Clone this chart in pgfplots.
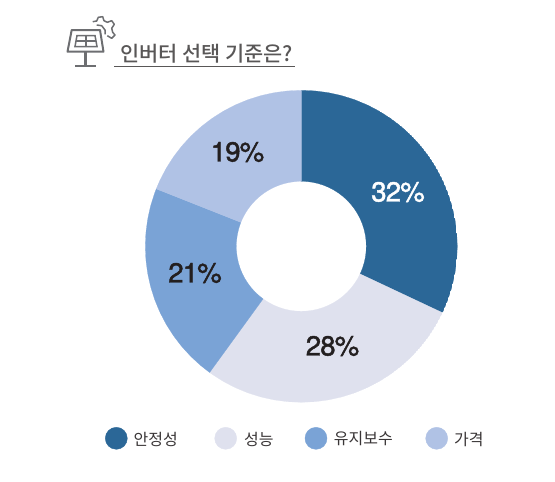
\documentclass[border=0pt]{standalone}
\usepackage{pgfplots}
\pgfplotsset{compat=1.18}
\usepgfplotslibrary{polar}
\usepackage{fontspec}
\setmainfont{TeX Gyre Heros}
\newfontfamily\kr{Noto Sans CJK KR}
\newfontfamily\krm{Noto Sans CJK KR Medium}
\newfontfamily\num[FakeBold=1.6,LetterSpace=-3]{TeX Gyre Heros}
\definecolor{cA}{HTML}{2B6797}
\definecolor{cB}{HTML}{DFE1EE}
\definecolor{cC}{HTML}{7AA3D6}
\definecolor{cD}{HTML}{B0C2E5}
\definecolor{ink}{HTML}{231F20}
\definecolor{titlegray}{HTML}{595757}
\definecolor{icongray}{HTML}{6D6E71}
\begin{document}
\begin{tikzpicture}
\useasboundingbox (0,0) rectangle (555pt,482pt);

% donut: (angle, radius), 32 28 21 19 percent clockwise from the top
\begin{polaraxis}[
  at={(301.3pt,235.7pt)}, anchor=center,
  width=312pt, height=312pt, scale only axis, hide axis,
  xmin=0, xmax=360, ymin=0, ymax=156]
\addplot[fill=cA,draw=cA,line width=0.2pt] coordinates {
(90,156)(85,156)(80,156)(75,156)(70,156)(65,156)(60,156)(55,156)(50,156)(45,156)(40,156)(35,156)(30,156)(25,156)(20,156)(15,156)(10,156)(5,156)(0,156)(355,156)(350,156)(345,156)(340,156)(335,156)(334.8,156)
(334.8,65)(335,65)(340,65)(345,65)(350,65)(355,65)(0,65)(5,65)(10,65)(15,65)(20,65)(25,65)(30,65)(35,65)(40,65)(45,65)(50,65)(55,65)(60,65)(65,65)(70,65)(75,65)(80,65)(85,65)(90,65)
} --cycle;
\addplot[fill=cB,draw=cB,line width=0.2pt] coordinates {
(334.8,156)(330,156)(325,156)(320,156)(315,156)(310,156)(305,156)(300,156)(295,156)(290,156)(285,156)(280,156)(275,156)(270,156)(265,156)(260,156)(255,156)(250,156)(245,156)(240,156)(235,156)(234,156)
(234,65)(235,65)(240,65)(245,65)(250,65)(255,65)(260,65)(265,65)(270,65)(275,65)(280,65)(285,65)(290,65)(295,65)(300,65)(305,65)(310,65)(315,65)(320,65)(325,65)(330,65)(334.8,65)
} --cycle;
\addplot[fill=cC,draw=cC,line width=0.2pt] coordinates {
(234,156)(230,156)(225,156)(220,156)(215,156)(210,156)(205,156)(200,156)(195,156)(190,156)(185,156)(180,156)(175,156)(170,156)(165,156)(160,156)(158.4,156)
(158.4,65)(160,65)(165,65)(170,65)(175,65)(180,65)(185,65)(190,65)(195,65)(200,65)(205,65)(210,65)(215,65)(220,65)(225,65)(230,65)(234,65)
} --cycle;
\addplot[fill=cD,draw=cD,line width=0.2pt] coordinates {
(158.4,156)(155,156)(150,156)(145,156)(140,156)(135,156)(130,156)(125,156)(120,156)(115,156)(110,156)(105,156)(100,156)(95,156)(90,156)
(90,65)(95,65)(100,65)(105,65)(110,65)(115,65)(120,65)(125,65)(130,65)(135,65)(140,65)(145,65)(150,65)(155,65)(158.4,65)
} --cycle;
\end{polaraxis}

% everything else in image pixels, y running down
\begin{axis}[
  at={(0,0)}, anchor=south west,
  width=555pt, height=482pt, scale only axis, hide axis,
  xmin=0, xmax=555, ymin=0, ymax=482, y dir=reverse, clip=false]
\addplot[only marks,mark=*,mark size=11pt,color=cA] coordinates {(116.3,438.3)};
\addplot[only marks,mark=*,mark size=11pt,color=cB] coordinates {(225.7,438.3)};
\addplot[only marks,mark=*,mark size=11pt,color=cC] coordinates {(316,438.3)};
\addplot[only marks,mark=*,mark size=11pt,color=cD] coordinates {(436.7,438.3)};

\node[anchor=center,text=white,font=\num\fontsize{27.5}{28}\selectfont] at (398,192) {32\%};
\node[anchor=center,text=ink,font=\num\fontsize{27.5}{28}\selectfont] at (332.5,346) {28\%};
\node[anchor=center,text=ink,font=\num\fontsize{27.5}{28}\selectfont] at (195,273) {21\%};
\node[anchor=center,text=ink,font=\num\fontsize{27.5}{28}\selectfont] at (237.5,152) {19\%};

\foreach \px/\lab in {133.5/안정성,244/성능,333.7/유지보수,454/가격}{
  \edef\tmp{\noexpand\node[anchor=west,inner sep=0pt,text=ink!90,font=\noexpand\kr\noexpand\fontsize{16}{16}\noexpand\selectfont] at (\px,439) {\lab};}
  \tmp
}

% title and underline
\node[anchor=west,inner sep=0pt,text=titlegray,font=\krm\fontsize{20.8}{21}\selectfont] at (120,53.5) {인버터 선택 기준은?};
\draw[titlegray,line width=0.9pt] (114,66.3) -- (295,66.3);

% solar panel icon
\draw[icongray,line width=2pt,line join=round] (71.7,30) -- (100,30) -- (103.5,51.7) -- (67.5,51.7) -- cycle;
\draw[icongray,line width=1.5pt] (77,35.5) -- (95,35.5) -- (97,46.5) -- (75,46.5) -- cycle;
\draw[icongray,line width=1.5pt] (76,41) -- (96,41) (85.8,35.5) -- (85.8,46.5);
\draw[icongray,line width=3pt] (85.8,51.7) -- (85.8,65);
\draw[icongray,line width=2pt] (75,65.7) -- (96,65.7);
\draw[icongray,line width=1.5pt,line join=round] (92.7,21.7) -- (96.7,21) -- (98.3,17.3) -- (102.7,16.7) -- (104,20.7) -- (107.3,22.3) -- (111.7,20.7) -- (114.3,24.3) -- (111.7,28.3) -- (112.7,32.3) -- (115,35) -- (111.7,38.3) -- (107.3,35.7);
\draw[icongray,line width=1.5pt,line join=round] (96.7,25) -- (101.7,25.7) -- (105,30) -- (105,34.3);
\end{axis}
\end{tikzpicture}
\end{document}
